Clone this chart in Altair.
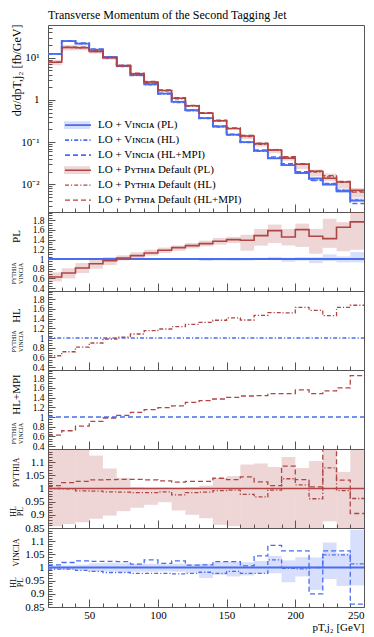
import altair as alt
import pandas as pd

# ---------------- data ----------------
bin_lo = [20, 30, 40, 50, 60, 70, 80, 90, 100, 110, 120, 130, 140, 150,
          160, 170, 180, 190, 200, 210, 220, 230, 240]
bin_width = 10
x_end = 250

series_names = ["LO + Vɪɴᴄɪᴀ (PL)", "LO + Vɪɴᴄɪᴀ (HL)", "LO + Vɪɴᴄɪᴀ (HL+MPI)",
                "LO + Pʏᴛʜɪᴀ Default (PL)", "LO + Pʏᴛʜɪᴀ Default (HL)",
                "LO + Pʏᴛʜɪᴀ Default (HL+MPI)"]
band_keys = ["Vincia PL band", "b2", "b3", "Pythia PL band", "b5", "b6"]

# main panel: dsigma/dpT [fb/GeV]
vincia_pl = [12.4, 24.8, 21.8, 15.7, 10.4, 6.4, 3.9, 2.36, 1.42, 0.90, 0.57, 0.37,
             0.235, 0.150, 0.100, 0.062, 0.041, 0.0285, 0.0185, 0.0138, 0.0098, 0.0068, 0.0041]
vincia_hl = [12.3, 24.7, 21.6, 15.5, 10.2, 6.28, 3.81, 2.31, 1.39, 0.88, 0.557, 0.363,
             0.230, 0.148, 0.098, 0.061, 0.042, 0.0284, 0.0185, 0.0126, 0.0103, 0.0072, 0.0042]
vincia_mpi = [12.5, 25.3, 22.3, 16.1, 10.6, 6.54, 3.95, 2.43, 1.44, 0.92, 0.575, 0.374,
              0.240, 0.153, 0.100, 0.065, 0.0445, 0.0304, 0.0197, 0.0124, 0.0104, 0.0072, 0.0035]
pythia_pl = [7.8, 17.6, 17.4, 14.2, 10.0, 6.5, 4.17, 2.65, 1.68, 1.10, 0.727, 0.487,
             0.321, 0.210, 0.139, 0.092, 0.065, 0.0415, 0.0297, 0.0203, 0.0139, 0.0113, 0.0072]
pythia_hl = [7.8, 17.6, 17.2, 14.1, 9.87, 6.41, 4.10, 2.61, 1.66, 1.07, 0.715, 0.480,
             0.318, 0.209, 0.136, 0.089, 0.0646, 0.0430, 0.0301, 0.0195, 0.0150, 0.0112, 0.0069]
pythia_mpi = [7.89, 18.0, 17.9, 14.7, 10.3, 6.73, 4.32, 2.74, 1.73, 1.13, 0.747, 0.500,
              0.334, 0.217, 0.145, 0.094, 0.0657, 0.0450, 0.0307, 0.0204, 0.0161, 0.0117, 0.0065]

# Vincia relative uncertainty band (PL)
vin_band_hi = [1.008, 1.008, 1.010, 1.016, 1.018, 1.016, 1.014, 1.014, 1.013, 1.014, 1.013, 1.014,
               1.020, 1.022, 1.020, 1.025, 1.044, 1.027, 1.039, 1.038, 1.095, 1.054, 1.143]
vin_band_lo = [0.992, 0.992, 0.990, 0.985, 0.985, 0.982, 0.984, 0.984, 0.985, 0.984, 0.980, 0.960,
               0.972, 0.966, 0.970, 0.978, 0.978, 0.944, 0.966, 0.915, 0.956, 0.930, 0.932]

# Pythia / Vincia ratios
vincia_over_vincia = [1.0, 1.0, 1.0, 1.0, 1.0, 1.0, 1.0, 1.0, 1.0, 1.0, 1.0, 1.0,
                      1.0, 1.0, 1.0, 1.0, 1.0, 1.0, 1.0, 1.0, 1.0, 1.0, 1.0]
ratio_pl = [0.628, 0.71, 0.814, 0.903, 0.966, 1.02, 1.07, 1.124, 1.18, 1.234, 1.276, 1.317,
            1.366, 1.40, 1.386, 1.483, 1.586, 1.455, 1.607, 1.469, 1.42, 1.655, 1.766]
ratio_pl_hi = [0.724, 0.81, 0.917, 1.0, 1.04, 1.076, 1.14, 1.19, 1.234, 1.28, 1.33, 1.38,
               1.434, 1.455, 1.50, 1.62, 1.71, 1.62, 1.73, 1.62, 1.83, 1.76, 2.0]
ratio_pl_lo = [0.538, 0.60, 0.71, 0.80, 0.876, 0.97, 1.02, 1.07, 1.124, 1.17, 1.22, 1.26,
               1.297, 1.33, 1.172, 1.276, 1.33, 1.28, 1.25, 1.11, 1.23, 1.16, 1.19]
ratio_hl = [0.634, 0.717, 0.814, 0.897, 0.98, 1.02, 1.083, 1.152, 1.186, 1.234, 1.283, 1.324,
            1.366, 1.414, 1.372, 1.469, 1.524, 1.517, 1.634, 1.572, 1.462, 1.634, 1.676]
ratio_mpi = [0.628, 0.717, 0.814, 0.91, 0.98, 1.034, 1.097, 1.152, 1.193, 1.228, 1.303, 1.338,
             1.372, 1.407, 1.434, 1.441, 1.483, 1.483, 1.559, 1.483, 1.538, 1.60, 1.855]

# HL / PL, Pythia
py_hl_pl = [1.0, 0.999, 0.991, 0.99, 0.987, 0.986, 0.984, 0.984, 0.987, 0.976, 0.984, 0.986,
            0.992, 0.994, 0.978, 0.968, 0.994, 1.037, 1.014, 0.961, 1.078, 0.992, 0.962]
py_mpi_pl = [1.011, 1.022, 1.027, 1.033, 1.034, 1.035, 1.035, 1.033, 1.029, 1.024, 1.027, 1.027,
             1.039, 1.034, 1.044, 1.025, 1.011, 1.085, 1.034, 1.006, 1.16, 1.032, 0.905]
py_band_hi = [1.16, 1.16, 1.16, 1.125, 1.076, 1.040, 1.006, 1.004, 1.004, 1.003, 1.005, 1.011,
              1.040, 1.047, 1.091, 1.095, 1.082, 1.120, 1.078, 1.104, 1.16, 1.063, 1.16]
py_band_lo = [0.857, 0.865, 0.872, 0.885, 0.897, 0.914, 0.927, 0.938, 0.948, 0.916, 0.900, 0.887,
              0.862, 0.857, 0.84, 0.84, 0.84, 0.84, 0.84, 0.84, 0.876, 0.84, 0.84]

# HL / PL, Vincia
vin_hl_pl = [0.994, 0.994, 0.989, 0.985, 0.981, 0.981, 0.978, 0.978, 0.978, 0.976, 0.978, 0.982,
             0.978, 0.985, 0.978, 0.978, 1.029, 0.997, 0.995, 1.0, 1.048, 1.048, 1.014]
vin_mpi_pl = [1.01, 1.019, 1.025, 1.023, 1.023, 1.022, 1.013, 1.029, 1.016, 1.025, 1.009, 1.01,
              1.022, 1.022, 1.006, 1.044, 1.084, 1.063, 1.063, 0.9, 1.063, 1.063, 0.861]

# ---------------- styling ----------------
BLUE = "#4a6cf0"
RED = "#b04545"
FONT = "Liberation Serif"
FRAME = "#555555"
W = 316
H_MAIN = 187
H_R = 79
SOLID = [1, 0]
DASHDOT = [4, 2, 1.2, 2]
DASHED = [5, 3]

XS = alt.Scale(domain=[20, 250], nice=False, zero=False)
YMAIN = alt.Scale(type="log", domain=[0.0022, 60], nice=False)
YRAT = alt.Scale(domain=[0.34, 1.97], nice=False, zero=False)
YHP = alt.Scale(domain=[0.85, 1.15], nice=False, zero=False)

X_MAJOR = [50, 100, 150, 200, 250]
X_MINOR = [v for v in range(30, 250, 10) if v not in X_MAJOR]
MAIN_MAJOR = [0.01, 0.1, 1, 10]
MAIN_MINOR = [m * d for d in (0.001, 0.01, 0.1, 1, 10) for m in range(2, 10) if 0.0022 < m * d < 60]
RAT_MAJOR = [0.4, 0.6, 0.8, 1.0, 1.2, 1.4, 1.6, 1.8]
RAT_MINOR = [round(0.35 + 0.05 * i, 2) for i in range(33) if round(0.35 + 0.05 * i, 2) not in RAT_MAJOR]
HP_MAJOR = [0.85, 0.9, 0.95, 1.0, 1.05, 1.1]
HP_MINOR = [round(0.85 + 0.01 * i, 2) for i in range(31) if round(0.85 + 0.01 * i, 2) not in HP_MAJOR]


def step_rows(values, series="s"):
    return pd.DataFrame({"x": bin_lo + [x_end], "y": list(values) + [values[-1]], "series": series})


def band_rows(lo, hi, key="b"):
    return pd.DataFrame({"x": bin_lo, "x2": [b + bin_width for b in bin_lo], "lo": lo, "hi": hi,
                         "band": key})


def x_major(last=False):
    kw = dict(orient="bottom", values=X_MAJOR, tickSize=8, offset=-8, domain=False, grid=False,
              labels=last, labelPadding=2, labelFont=FONT, labelFontSize=11,
              labelFlush=True, labelOverlap=False)
    if last:
        kw.update(title="pT,j₂ [GeV]", titleAnchor="end", titleFont=FONT, titleFontSize=11,
                  titleFontWeight="normal", titlePadding=1)
    else:
        kw.update(title=None)
    return alt.Axis(**kw)


def x_minor():
    return alt.Axis(orient="bottom", values=X_MINOR, tickSize=4, offset=-4, domain=False,
                    grid=False, labels=False, title=None)


def title_props(text, tx, ty, size, align="center"):
    return dict(title=text, titleX=tx, titleY=ty, titleAngle=270, titleAlign=align,
                titleBaseline="middle", titleFont=FONT, titleFontSize=size,
                titleFontWeight="normal")


def y_major(values, label_pad, label_size, title, tx, ty, size, align="center",
            label_expr=None, fmt=None):
    kw = dict(orient="left", values=values, tickSize=7, offset=-7, domain=False, grid=False,
              labelPadding=label_pad, labelFont=FONT, labelFontSize=label_size,
              labelFlush=False, labelOverlap=False)
    kw.update(title_props(title, tx, ty, size, align))
    if label_expr:
        kw["labelExpr"] = label_expr
    if fmt:
        kw["format"] = fmt
    return alt.Axis(**kw)


def y_minor(values, title=None, tx=-36, ty=0, size=11):
    kw = dict(orient="left", values=values, tickSize=4, offset=-4, domain=False, grid=False,
              labels=False)
    if title:
        kw.update(title_props(title, tx, ty, size))
    else:
        kw["title"] = None
    return alt.Axis(**kw)


def y_text(title, tx, ty, size):
    kw = dict(orient="left", ticks=False, labels=False, domain=False, grid=False)
    kw.update(title_props(title, tx, ty, size))
    return alt.Axis(**kw)


def band(lo, hi, color, yscale, xaxis=None, yaxis=None):
    return alt.Chart(band_rows(lo, hi)).mark_rect(color=color, opacity=0.22, clip=True).encode(
        x=alt.X("x:Q", scale=XS, axis=xaxis), x2="x2:Q",
        y=alt.Y("lo:Q", scale=yscale, axis=yaxis), y2="hi:Q")


def step(values, color, dash, width, yscale, xaxis=None, yaxis=None, opacity=1.0):
    return alt.Chart(step_rows(values)).mark_line(
        interpolate="step-after", color=color, strokeDash=dash, strokeWidth=width, clip=True,
        opacity=opacity
    ).encode(x=alt.X("x:Q", scale=XS, axis=xaxis), y=alt.Y("y:Q", scale=yscale, axis=yaxis))


def panel(layers, h):
    return alt.layer(*layers).resolve_axis(x="independent", y="independent").properties(
        width=W, height=h)


# title x positions (relative to the axis groups, which are shifted by the tick offsets)
NUM_X = -42    # numerator of the small fraction (major axis, offset -7)
WORD_X = -36   # word (minor axis, offset -4)
DEN_X = -28    # denominator (text-only axis, offset 0)
RAT_LABEL = 9.5

# ---------------- main panel ----------------
main_lines = pd.concat([
    step_rows(vincia_pl, series_names[0]), step_rows(vincia_hl, series_names[1]),
    step_rows(vincia_mpi, series_names[2]), step_rows(pythia_pl, series_names[3]),
    step_rows(pythia_hl, series_names[4]), step_rows(pythia_mpi, series_names[5])])

main_bands = pd.concat([
    band_rows([v * r for v, r in zip(vincia_pl, vin_band_lo)],
              [v * r for v, r in zip(vincia_pl, vin_band_hi)], band_keys[0]),
    band_rows([p * lo / r for p, lo, r in zip(pythia_pl, ratio_pl_lo, ratio_pl)],
              [p * hi / r for p, hi, r in zip(pythia_pl, ratio_pl_hi, ratio_pl)], band_keys[3])])

LEG = dict(orient="none", legendX=16, legendY=93, title=None, labelFont=FONT, labelFontSize=11,
           clipHeight=14.3, rowPadding=0, labelOffset=6, padding=0, labelLimit=300)
line_legend = alt.Legend(symbolType="stroke", symbolSize=676, symbolStrokeWidth=1.5, zindex=2, **LEG)
band_legend = alt.Legend(symbolType="M-1,-0.3L1,-0.3L1,0.3L-1,0.3Z", symbolSize=676,
                         symbolStrokeWidth=0, symbolOpacity=0.22, labelExpr="''",
                         zindex=1, **LEG)

main_band_layer = alt.Chart(main_bands).mark_rect(opacity=0.22, clip=True).encode(
    x=alt.X("x:Q", scale=XS, axis=x_major()), x2="x2:Q",
    y=alt.Y("lo:Q", scale=YMAIN,
            axis=y_major(MAIN_MAJOR, 9, 11, "dσ/dpT,j₂ [fb/GeV]", -39, -1, 12, align="right",
                         label_expr="datum.value >= 5 ? '10¹' : datum.value >= 0.5 ? '1' : datum.value >= 0.05 ? '10⁻¹' : '10⁻²'")),
    y2="hi:Q",
    fill=alt.Fill("band:N", scale=alt.Scale(
        domain=band_keys, range=[BLUE, "transparent", "transparent", RED, "transparent", "transparent"]),
        legend=band_legend),
)
main_curves = alt.Chart(main_lines).mark_line(interpolate="step-after", clip=True).encode(
    x=alt.X("x:Q", scale=XS, axis=x_minor()),
    y=alt.Y("y:Q", scale=YMAIN, axis=y_minor(MAIN_MINOR)),
    color=alt.Color("series:N", scale=alt.Scale(domain=series_names, range=[BLUE] * 3 + [RED] * 3),
                    legend=line_legend),
    strokeDash=alt.StrokeDash("series:N", scale=alt.Scale(
        domain=series_names, range=[SOLID, DASHDOT, DASHED, SOLID, DASHDOT, DASHED]),
        legend=line_legend),
    strokeWidth=alt.StrokeWidth("series:N", scale=alt.Scale(
        domain=series_names, range=[1.8, 1.3, 1.3, 1.8, 1.3, 1.3]), legend=None),
)
main = panel([main_band_layer, main_curves], H_MAIN).properties(
    title=alt.TitleParams("Transverse Momentum of the Second Tagging Jet", anchor="start",
                          frame="group", font=FONT, fontSize=12, fontWeight="normal",
                          offset=2, color="black"))

# ---------------- Pythia / Vincia ratio panels ----------------
pl_panel = panel([
    band(ratio_pl_lo, ratio_pl_hi, RED, YRAT, x_major(),
         y_major(RAT_MAJOR, 4, RAT_LABEL, "PYTHIA", NUM_X, 61, 6, fmt="~g")),
    band(vin_band_lo, vin_band_hi, BLUE, YRAT, x_minor(), y_minor(RAT_MINOR, "PL", WORD_X, 24)),
    step(vincia_over_vincia, BLUE, SOLID, 2, YRAT, yaxis=y_text("VINCIA", DEN_X, 61, 6)),
    step(ratio_pl, RED, SOLID, 1.6, YRAT),
], H_R)

hl_panel = panel([
    step(vincia_over_vincia, BLUE, DASHDOT, 1.4, YRAT, x_major(),
         y_major(RAT_MAJOR, 4, RAT_LABEL, "PYTHIA", NUM_X, 50, 6, fmt="~g")),
    step(ratio_hl, RED, DASHDOT, 1.3, YRAT, x_minor(), y_minor(RAT_MINOR, "HL", WORD_X, 24)),
    step(ratio_hl, RED, DASHDOT, 1.3, YRAT, yaxis=y_text("VINCIA", DEN_X, 50, 6), opacity=0),
], H_R)

mpi_panel = panel([
    step(vincia_over_vincia, BLUE, DASHED, 1.4, YRAT, x_major(),
         y_major(RAT_MAJOR, 4, RAT_LABEL, "PYTHIA", NUM_X, 63, 6, fmt="~g")),
    step(ratio_mpi, RED, DASHED, 1.3, YRAT, x_minor(), y_minor(RAT_MINOR, "HL+MPI", WORD_X, 24)),
    step(ratio_mpi, RED, DASHED, 1.3, YRAT, yaxis=y_text("VINCIA", DEN_X, 63, 6), opacity=0),
], H_R)

# ---------------- HL / PL panels ----------------
py_panel = panel([
    band(py_band_lo, py_band_hi, RED, YHP, x_major(),
         y_major(HP_MAJOR, 4, 11, "HL", NUM_X, 62, 8, fmt="~g")),
    step(vincia_over_vincia, RED, SOLID, 1.4, YHP, x_minor(), y_minor(HP_MINOR, "PYTHIA", WORD_X, 23, 8)),
    step(py_hl_pl, RED, DASHDOT, 1.3, YHP, yaxis=y_text("PL", DEN_X, 62, 8)),
    step(py_mpi_pl, RED, DASHED, 1.3, YHP),
], H_R)

vin_panel = panel([
    band(vin_band_lo, vin_band_hi, BLUE, YHP, x_major(True),
         y_major(HP_MAJOR, 4, 11, "HL", NUM_X, 54, 8, fmt="~g")),
    step(vincia_over_vincia, BLUE, SOLID, 1.8, YHP, x_minor(), y_minor(HP_MINOR, "VINCIA", WORD_X, 24, 8)),
    step(vin_hl_pl, BLUE, DASHDOT, 1.3, YHP, yaxis=y_text("PL", DEN_X, 54, 8)),
    step(vin_mpi_pl, BLUE, DASHED, 1.3, YHP),
], H_R)

chart = alt.vconcat(main, pl_panel, hl_panel, mpi_panel, py_panel, vin_panel, spacing=0,
                    bounds="flush").resolve_scale(
    color="independent", strokeDash="independent", strokeWidth="independent",
    fill="independent"
).properties(
    padding={"left": 0, "right": 0, "top": 0, "bottom": 0}
).configure_view(stroke=FRAME, strokeWidth=1).configure_axis(
    tickColor=FRAME, labelColor="black", titleColor="black", tickWidth=1
)

chart.save("out.html", embed_options={"renderer": "svg", "actions": False})
